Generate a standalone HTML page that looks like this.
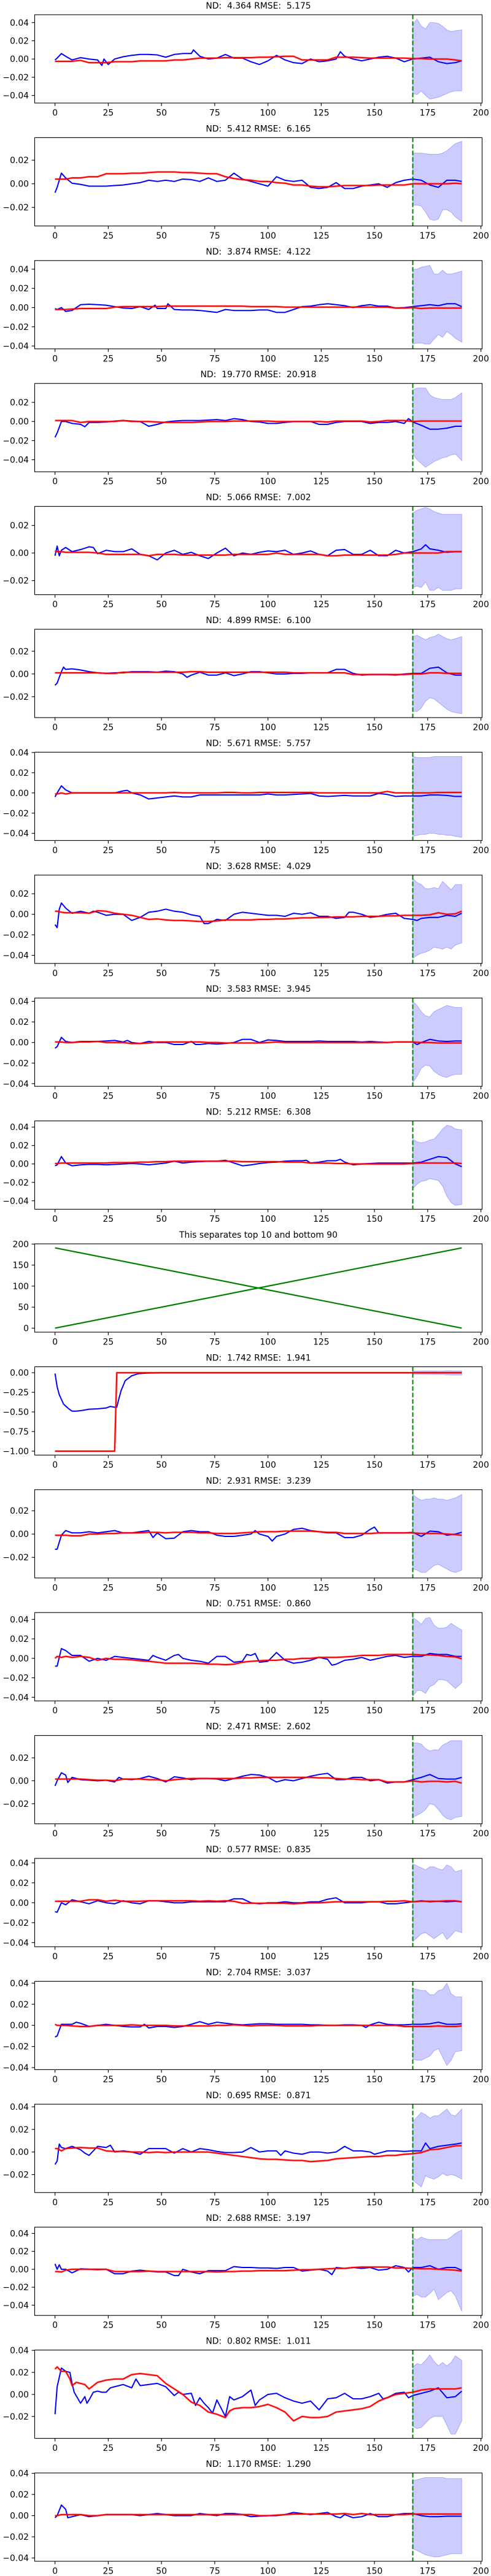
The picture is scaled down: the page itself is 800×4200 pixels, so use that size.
<!DOCTYPE html>
<html><head><meta charset="utf-8"><title>Forecast panels</title>
<style>
html,body{margin:0;padding:0;background:#fff;}
svg{display:block;font-family:"DejaVu Sans","Liberation Sans",sans-serif;}
</style></head>
<body>
<svg id="fig" xmlns="http://www.w3.org/2000/svg" width="800" height="4200" viewBox="0 0 800 4200">
<rect x="0" y="0" width="800" height="4200" fill="#ffffff"/>
</svg>
<script>
// ---- shared axes data ----
const gridX = [0,1,3,5,8,12,16,20,24,28,32,36,40,44,48,52,56,60,64,68,72,76,80,84,88,92,96,100,104,108,112,116,120,124,128,132,136,140,144,148,152,156,160,164,168,172,176,180,184,188,191];
const bandX = [168,170,172,174,176,178,180,182,184,186,188,191];
const xTicks = [0,25,50,75,100,125,150,175,200];
const forecastStart = 168;
const titles = [
"ND:  4.364 RMSE:  5.175","ND:  5.412 RMSE:  6.165","ND:  3.874 RMSE:  4.122","ND:  19.770 RMSE:  20.918",
"ND:  5.066 RMSE:  7.002","ND:  4.899 RMSE:  6.100","ND:  5.671 RMSE:  5.757","ND:  3.628 RMSE:  4.029",
"ND:  3.583 RMSE:  3.945","ND:  5.212 RMSE:  6.308","This separates top 10 and bottom 90","ND:  1.742 RMSE:  1.941",
"ND:  2.931 RMSE:  3.239","ND:  0.751 RMSE:  0.860","ND:  2.471 RMSE:  2.602","ND:  0.577 RMSE:  0.835",
"ND:  2.704 RMSE:  3.037","ND:  0.695 RMSE:  0.871","ND:  2.688 RMSE:  3.197","ND:  0.802 RMSE:  1.011",
"ND:  1.170 RMSE:  1.290"];
// y limits in thousandths (panel 10 in raw units)
const yLims = [[-48.3,48.6],[-35.7,39.1],[-43,49],[-52.6,39.8],[-30.2,33.8],[-38.4,39.3],[-47.1,40.3],[-47.9,38.2],[-42.6,43.2],[-49.2,46.7],
[-9.55,200.55],[-1050,76],[-37.7,38.1],[-43.7,47],[-37.5,39.5],[-44.1,44.5],[-41.9,41.7],[-35.9,42.3],[-51.5,47],[-39.9,40.3],[-43.1,40.3]];
const ticks4 = [-40,-20,0,20,40];
const ticks2 = [-20,0,20];
const yTicks = [ticks4,ticks2,ticks4,[-40,-20,0,20],ticks2,ticks2,ticks4,[-40,-20,0,20],ticks4,ticks4,
[0,50,100,150,200],[-1000,-750,-500,-250,0],ticks2,ticks4,ticks2,ticks4,ticks4,[-20,0,20,40],ticks4,[-20,0,20,40],ticks4];

// ---- actual (blue) series: x,value pairs, values in thousandths ----
const actual0=[0,-1,1,1,3,6,5,3,8,-1,12,1.5,16,0,20,-1,22,-7,23,0,25,-6,28,0,32,2.5,36,4,40,5,44,5,48,4.5,52,2,56,5,60,6,64,6,65,10,68,3,72,0,76,1,80,5,84,1,88,1,92,-3,96,-6,100,-2,104,4,108,-1,112,-4,116,-5,120,0,124,-3,128,-2,132,0,134,8,136,3,140,0,144,-2,148,0,152,2,156,3,160,1,164,-3,168,0,172,1,176,2,180,-3,184,-5,188,-4,191,-2];
const actual1=[0,-7.5,1,-3,3,9,5,5,8,0.5,12,-0.5,16,-2,20,-2,24,-2,28,-1.5,32,-1,36,0,40,1,44,3,48,2,52,3,56,2,60,4,64,3.5,68,2,72,5,76,2,80,3,84,9,88,4,92,2,96,0,100,-2,104,6,108,3,112,2,116,3,120,-3,124,-4,128,-3,132,1,136,-4,140,-4,144,-2,148,-1,152,0,156,-3,160,1,164,3,168,4,172,3,176,-1,180,-3,184,3,188,3,191,2];
const actual2=[0,-1,1,-2,3,0,5,-4,8,-3,12,3,16,3.5,20,3,24,2.5,28,1,32,-0.5,36,-1,40,1,44,-2,47,2.5,48,-1,52,-1,53,4,56,-2,60,-2.5,64,-2.5,68,-3,72,-4,76,-5,80,-2,84,-3,88,-3,92,-3,96,-2.5,100,-2.5,104,-5,108,-5,112,-2,116,1,120,1.5,124,3,128,4,132,3,136,2,140,0,144,2,148,3,152,1.5,156,1.5,160,-0.5,164,0,168,1,172,2,176,3,180,2,184,4,188,4,191,1];
const actual3=[0,-16.5,1,-12,3,0,5,0,8,-2,12,-3,14,-5.5,16,-1,20,-1,24,-0.5,28,0.5,32,1,36,0.5,40,0,44,-5,48,-3,52,-0.5,56,0.5,60,1,64,1,68,1,72,1.5,76,2,80,1,84,3,88,2,92,0,96,-0.5,100,-2,104,-2,108,-1,112,0,116,0,120,0,124,-3,128,-3,132,-1,136,0,140,0,144,0,148,-2,152,-1,156,-1,160,0,164,-2,166,3,168,-0.5,172,-4,176,-8,180,-8,184,-7,188,-5,191,-5];
const actual4=[0,-2,1,5,2,-2,3,2,5,4,8,1,12,2.5,16,4.5,18,4,20,-0.5,24,2,28,1,32,1,36,3,40,-1,44,-2,48,-5,52,0,56,2,60,-1,64,0.5,68,-2,72,-4,76,0,80,3.5,84,-2,88,0,92,-1,96,0.5,100,1.5,104,1,108,2,112,-1,116,0,120,1.5,124,-1,128,-2,132,2,136,2.5,140,-1,144,-1,148,2,152,-2,156,-2,160,2,164,0,168,1,172,3,174,6,176,3,180,2,184,0.5,188,1,191,1];
const actual5=[0,-10,1,-8,3,2,4,6,5,4,8,4.5,12,3.5,16,2,20,1,24,0.5,28,1,32,1,36,2,40,2,44,2,48,1.5,52,2.5,56,2,60,0,62,-3,64,-1,68,1.5,72,-1,76,-1,80,1,84,-1.5,88,0,92,2,96,2,100,1,104,0,108,0,112,0.5,116,0.5,120,1,124,1,128,1,132,4,136,4,140,0.5,144,-1,148,-0.5,152,-0.5,156,-0.5,160,-1,164,0,168,0.5,172,0.5,176,5,180,6,184,1,188,-1,191,-1];
const actual6=[0,-4,1,0,3,7,5,3,8,0,12,0,16,0,20,0,24,0,28,0,32,2,34,2.5,36,0,40,-2,44,-6,48,-5,52,-4,56,-3,60,-4,64,-4,68,-2,72,-2,76,-2,80,-2,84,-2,88,-2,92,-2,96,-2,100,-1,104,-2,108,-2,112,-1.5,116,-1,120,-0.5,124,-3,128,-3.5,132,-3,136,-2.5,140,-3,144,-3,148,-3,152,-0.5,156,-1.5,160,-3.5,164,-3,168,-3,172,-3,176,-2,180,-2,184,-2.5,188,-3.5,191,-3.5];
const actual7=[0,-10,1,-13,2,5,3,11,5,6,8,1,12,3,16,1,18,3,20,2,24,-1,28,0,32,0,36,-6,40,-3,44,2,48,3,52,5,56,3,60,2,64,-0.5,68,-2,70,-9,72,-9,76,-5,80,-6,84,0,88,2,92,1,96,0,100,-1,104,-1,108,-2,112,1,116,0,120,1.5,124,-2,128,-2,132,-4,136,-3,138,2,140,2,144,0,148,-3,152,-2,156,0,160,1,164,-4,168,-5,170,-6,172,-4,176,-3,180,-3,184,-1,188,-2,191,1];
const actual8=[0,-5.5,1,-4,3,5,5,1,8,0,12,1,16,1,20,1,24,1.5,28,2,32,0.5,34,2,36,0,40,-1,44,1,48,0,52,0,56,-2,60,-2,64,1,66,-2,68,-2,72,-1,76,-1.5,80,-1,84,0,88,3,92,3,96,0,100,2.5,104,2,108,1,112,1,116,1,120,1,124,1.5,128,1,132,1,136,1,140,1,144,0.5,148,1,152,0.5,156,0,160,0.5,164,0.5,168,0.5,170,-2,172,0,176,3,180,1.5,184,1,188,1.5,191,1.5];
const actual9=[0,-2,1,-1,3,8,5,1,8,-2,12,-1,16,-0.5,20,-0.5,24,-1,28,-0.5,32,0,36,0.5,40,0,44,-1,48,0,52,1,56,3,60,1,64,2,68,2.5,72,3,76,3,80,4,84,1,88,-2,92,-1,96,0.5,100,1.5,104,2,108,3,112,3.5,116,3.5,118,4,120,1,124,2,128,3.5,132,3.5,134,5,136,2,140,-1,144,0,148,0.5,152,1,156,1,160,1,164,1,168,1,172,2,176,5,180,8,184,7,188,0,191,-3];
const actual11=[0,-10,1,-180,2,-280,4,-400,6,-450,8,-490,10,-490,13,-480,16,-465,20,-460,24,-450,26,-430,28,-440,29,-440,30,-330,31,-230,33,-100,36,-40,39,-13,43,-5,50,0,100,0,191,0];
const actual12=[0,-13,1,-13,3,-1,5,3,8,1,12,1,16,2,20,1,24,2,28,3,32,1,36,1,40,2,44,3,46,-3,48,1,52,-4,56,-3.5,60,2,64,3,68,2,72,2,76,-1,80,-2,84,-2,88,-1,92,0,94,3,96,0,100,-2,102,-6,104,-2,108,0,112,4,116,5,120,3,124,2,128,1,132,1,136,-3,140,-3,144,-1,148,4,150,6,152,1,156,1,160,1,164,1,168,1.5,172,-2,176,2.5,180,2,184,-1,188,0,191,1.5];
const actual13=[0,-8,1,-8,3,10,5,8,8,3,12,3,16,-3,20,0,24,-2,28,2,32,1,36,0,40,-1,44,-2,46,3,48,1,52,-2,56,3,58,4,60,0,64,-2,68,-3,72,-5,76,2,80,2,84,-4,88,-3,90,4,92,3,94,5,96,-4,100,-3,104,6,108,-2,112,-5,116,-4,120,-2,124,1,128,-1,130,-7,132,-6,136,-2,140,-1,144,1,148,-2,152,0,156,2,160,3,164,1,168,2,172,2,176,5,180,4,184,4,188,2,191,2];
const actual14=[0,-4.5,1,0,3,7,5,5,6,-1.5,8,3,12,1,16,0.5,20,0,24,0.5,28,-1,30,3,32,1.5,36,1,40,2,44,4,48,2,52,-1,56,3.5,60,2.5,64,1,68,2,72,2,76,1.5,80,0,84,2,88,4,92,5.5,96,5,100,3,104,-1,108,1,112,0,116,2,120,4,124,5.5,128,6.5,132,1,136,1,140,3,144,3,148,0,152,1,156,-2,160,-1,164,-1,168,1,172,3,176,5.5,180,2,184,1.5,188,1.5,191,3];
const actual15=[0,-9,1,-9.5,3,0,5,-2,8,3,12,1,16,-1,20,2,24,0,28,-1,32,2,36,0,40,-1,44,2,48,2,52,1,56,0,60,0,64,1,68,1,72,1,76,1,80,1,84,4,88,4,92,0,96,-1,100,0,104,0,108,1,112,0,116,0,120,1,124,1,128,3.5,132,5,136,0,140,0,144,0,148,1,152,1,156,-1,160,-1,164,0,168,1,172,2,176,1,180,1.5,184,1,188,1.5,191,1];
const actual16=[0,-11,1,-10,3,1,5,1,8,1,10,3,12,2,16,-1,20,0,24,1,28,0,32,-1,36,-1.5,40,-1.5,42,1,44,-2.5,48,-1,52,-1,56,-2,60,-1,64,1,68,3.5,72,1,76,3,80,2,84,1,88,0.5,92,1,96,1.5,100,1.5,104,1,108,1,112,1,116,1,120,0.5,124,0.5,128,0,132,0,136,0.5,140,0.5,144,0,146,-2,148,0.5,152,3,156,1,160,0.5,164,0.5,168,1,172,1,176,1.5,180,3,184,1,188,1,191,1.5];
const actual17=[0,-11,1,-8,2,7,3,4,5,3,8,5,12,2,14,-1,16,-3,20,5,24,4,26,6,28,0,32,1,36,0,40,-2,44,3,48,3,52,3,56,-1,60,3,64,0,68,3,72,2,76,0.5,80,-0.5,84,-0.5,88,0,92,4,96,0,100,1,104,1,106,-3,108,1,112,-1,116,-2,120,0,124,0,128,-1,132,0,136,5,140,1,144,1,148,0,150,-2,152,-1,156,1,160,1,164,0.5,168,1,172,1,174,8,176,3,180,5,184,6,188,7,191,8];
const actual18=[0,6,1,0,2,5,3,0,5,0,8,-4,12,0.5,16,0,20,-0.5,24,0,28,-5,32,-5,36,-2,40,-1,44,-2,48,-3,52,-3,56,-7,58,-7,60,0,64,-3,68,-5,72,-1.5,76,-1.5,80,-1.5,84,3,88,2,92,2,96,1.5,100,1.5,104,1,108,2,112,2,116,-2,120,-1,124,0,128,-2,130,-6,132,2,136,1,140,2,144,1,148,2,152,-1,156,0,160,4,164,2,166,-3,168,2,172,2,176,4,180,0,184,2,188,2,191,-1];
const actual19X=[0,1,3,5,7,8,9,12,14,15,16,18,20,22,24,26,28,32,36,38,40,44,48,52,56,58,60,64,66,68,70,72,74,76,80,82,84,88,92,94,96,100,104,108,112,116,120,124,128,132,136,140,144,148,152,154,156,160,164,166,168,172,176,180,184,188,191];
const actual19Y=[-18,7,24,21,20,10,2,-8,-2,-8,-5,2,3,2,2,6,7,9,6,14,8,9,10,7,-1,2,0,1,-10,-3,-8,-12,-17,-5,-20,-2,-5,-2,4,-10,-5,0,1,-3,-6,-8,-6,-14,-4,-3,1,-4,-4,-2,1,-4,-3,1,2,-3,-1,1,3,6,-3,-2,3];
const actual20=[0,-2,1,0,3,10,5,6,6,-2,8,-1,12,1,16,-1,20,0,24,1,28,1,32,1,36,1,40,0,44,1,48,2,52,1,56,0,60,0,64,0,68,2,72,1,76,0,80,2,84,2,88,1,92,-1,96,-0.5,100,0,104,0,108,1,112,3,116,2,120,1,124,2,128,3,132,-1,134,-2,136,1,140,-2,144,-1,148,2,152,-1,156,-1,160,1,164,2,168,2,172,0,176,-1,180,-1,184,-0.5,188,-0.5,191,-0.5];

// ---- forecast (red) series on gridX, thousandths ----
const forecast0=[-2.5,-2.5,-2.5,-2.5,-2.5,-1.5,-4,-4,-4,-3,-3,-3,-2,-2,-2,-2,-1,-1,0,1,1,1,1.5,1.5,1.5,1.5,2,2,2.5,3,3,-1,-1,-1,-1,2,2,2,1.5,1,1,1,1,1,0.5,0.5,0,0,0,-1,-2];
const forecast1=[4,4,4,4,5,5,6,6,8.5,8.5,8.5,9,9,9.5,10,10,10,9.5,9.5,9,8.5,8.5,6,4.5,3.5,3,2,2,1,0.5,-1,-1,-2,-2.5,-2.5,-2,-1.5,-1.5,-1.5,-1.5,-1,-1,-1,-1,0,0,0,0,0,0.5,0];
const forecast2=[-2,-2,-2,-2,-1.5,-1,-1,-1,-1,0.5,1,1,1,1,1,1.5,1.5,1.5,1.5,1.5,1.5,1.5,1.5,1.5,1.5,1,1,1,1,0.5,0.5,0.5,0.5,0.5,0.5,0.5,0.5,0.5,0.5,0.5,0.5,0.5,-0.5,-0.5,0,-1,-0.5,-0.5,-0.5,-0.5,-0.5];
const forecast3=[1,1,1,1,1,-1,0,0,0,0,1,0,0,0,-0.5,-1,-1,-1,-1,-0.5,0,0,0,0.5,0.5,0.5,0.5,0.5,0,0,0,0,0,0,-0.5,0.5,0.5,0.5,0.5,-0.5,0,1,1,1,0,0.5,0.5,0.5,0.5,0.5,0.5];
const forecast4=[1.5,1,1,0.5,0.5,0.5,0.5,0,-1,-1,-1,-1,-1,-2,-1,-1,-1,-1.5,-1.5,-1.5,-1.5,-1.5,-1.5,-1,-1,-1,-1,-1,0,-1,-1,-1,-1,-1,-2,-2,-1.5,-1.5,-1.5,-1.5,-1.5,-1.5,-1,0,0,0,0,0,1,1,1];
const forecast5=[1,1,1,1,1,1,1,1,0.5,0.5,1.5,1.5,1.5,1.5,1.5,1.5,1.5,1.5,2,2,1.5,1.5,1.5,1.5,1.5,1.5,1.5,1.5,1.5,1.5,1,1,1,1,1,1,1,-0.5,-0.5,-0.5,-0.5,-0.5,-0.5,-0.5,0,0,1,1,0.5,0.5,0.5];
const forecast6=[-1,-1,0,-1,0,0,0,0,0,0,0,0,0,0,0,0,0.5,0,0,0,0,0,0.5,0.5,0,0,0.5,0.5,0.5,0.5,0.5,0.5,0.5,0,0,0,0,0,0,0,0,1.5,0,0,0,0,0,0.5,0.5,0.5,0.5];
const forecast7=[3,3,2,1.5,1.5,1.5,1,3.5,3,1,0,-1,-3,-5,-4.5,-5.5,-6,-6,-6.5,-7,-7,-6.5,-5.5,-5.5,-5.5,-5.5,-5,-5,-4.5,-4.5,-4,-3.5,-3.5,-3,-3,-2.5,-2.5,-2.5,-2,-2,-2,-1.5,-1.5,-1,-1,-1,-0.5,1.5,0,0.5,3];
const forecast8=[0.5,0.5,0.5,0,0,0.5,0.5,1,0,0,0,-1,-1,-0.5,0.5,0.5,0.5,0.5,0.5,0.5,0,0,-0.5,-0.5,-0.5,-0.5,-0.5,0,0.5,0,0,0,0,0,0,0,0,0,0,0,0,0,0.5,0.5,0.5,0,0,-0.5,-0.5,-0.5,-0.5];
const forecast9=[0.5,0.5,1,1,1,1,1,1,1,1.5,1.5,1.5,2,2,2.5,2.5,3,3,3,3,3,3,3,3,2.5,2.5,2.5,2.5,2.5,2,2,2,1,1,1,0.5,0.5,0,0,0,0,0,0,0,0.5,1,1,1,1,1,0.5];
const forecast11X=[0,28,29,100,191];
const forecast11Y=[-1000,-1000,0,0,0];
const forecast12=[-1,-1,-1,-1,-1.5,-1.5,0,0,0.5,0.5,1,1,1,1.5,1.5,1,1.5,1.5,1.5,1,1,0.5,0.5,0.5,1,1.5,2,2,2,2.5,2.5,2.5,2.5,2,1.5,1.5,0.5,0.5,0.5,0.5,1,1,1,1,1,0.5,0.5,0.5,0,-0.5,-1];
const forecast13=[0,2,1,2,1,2,1,-2,0,-1,-1,-1.5,-2.5,-3,-4,-5,-5,-5,-5,-5.5,-6,-6,-6.5,-6,-4,-3,-2.5,-2,-2,-1,-1,0,0,1,1,1,1.5,2,3,3,3,4,4,4,4,3.5,3.5,3,2,1.5,-0.5];
const forecast14=[1.5,1.5,1.5,1.5,1.5,1.5,1,0.5,0.5,0,1.5,1.5,1.5,1,1,0,1,1.5,2,2,2,2,2,2,2.5,2.5,3,3,3,3,3,3,3,2.5,2.5,2,1.5,1.5,1,1,1,-1,-1,-1,0,-1,-0.5,-0.5,-1,-0.5,-2];
const forecast15=[1.5,1.5,1.5,1.5,1.5,1.5,3,3,1.5,2.5,1.5,1.5,1.5,2,2,2,2,2,2,1.5,2,1.5,2,1.5,-0.5,-0.5,-0.5,-0.5,-0.5,-0.5,-1,-0.5,0,0,0.5,1,1,1,1,1,1,1.5,1.5,2,1,1.5,1.5,1.5,2,2,1];
const forecast16=[1,0,0,0,-0.5,-1,-1,0,0,0,0,0.5,0,0,0,0,-0.5,-0.5,-0.5,-0.5,-0.5,0,0,0.5,0,-0.5,0,0,0,-0.5,-0.5,-0.5,-0.5,0,0,0,0,0,0,0,0,0,0,-1,-1,-1,-1,-0.5,-1,-1,-0.5];
const forecast17=[3,3,1,3,3.5,4,3.5,3.5,1,0.5,0.5,0,0,-0.5,0,-0.5,0,0,0,0,0,-1,-2,-3,-4,-5,-6,-6.5,-6.5,-7,-7.5,-7.5,-8.5,-8,-7.5,-6,-5.5,-5,-4.5,-4,-4,-3,-3,-2,-1.5,-0.5,2,2.5,4,5.5,5.5];
const forecast18=[-2.5,-2.5,-3,-1,0,0,0,0,0,-2.5,-2.5,-2.5,-2.5,-2,-2.5,-2.5,-2.5,-2.5,-2.5,-2.5,-2.5,-3,-2.5,-2.5,-2,-2,-1.5,-1.5,-1.5,-1.5,-1,-0.5,-0.5,0,0.5,1,1,2,2.5,2.5,2.5,2.5,1.5,1.5,1,0.5,0.5,0,-0.5,-1,-2];
const forecast19X=[0,1,3,5,7,8,10,14,16,20,24,28,32,36,40,44,48,52,56,60,64,68,72,76,80,82,84,88,92,96,100,104,108,112,116,120,124,128,132,136,140,144,148,152,156,160,164,168,172,176,180,184,188,191];
const forecast19Y=[23,25,21,21,14,8,11,9,5,11,13,14,14,18,19,18,17,10,5,0,-7,-10,-16,-18,-21,-15,-13,-12,-12,-11,-9,-12,-16,-24,-20,-21,-21,-20,-16,-15,-14,-13,-11,-6,-3,0,1,2,4,5,5,5,5,6];
const forecast20=[0,0,1,1,1,1,0,0,1,1,1,1,1,1,1,1,1,1,1,1,1,1,1,1,1,1,0,0,0.5,1,1.5,1.5,1.5,1.5,1.5,1.5,2,1,2,1,1,1,1,1,1.5,1.5,1.5,1.5,1.5,1.5,1.5];

// ---- uncertainty band (on bandX), thousandths ----
const upper0=[38,44,36,33,40,40,39,36,32,30,31,32], lower0=[-38,-39,-35,-40,-44,-43,-42,-40,-38,-36,-35,-35];
const upper1=[26,26,26,25.5,25,25,25,26,28,31,34,36], lower1=[-18,-18,-19,-24,-30,-31,-30,-22,-22,-24,-28,-32];
const upper2=[40,40,42,43,44,35,35,39,35,35,36,38], lower2=[-38,-37,-37,-38,-38,-33,-28,-31,-25,-28,-32,-36];
const upper3=[33,35,35,35,28,25,24,23,23,23,25,30], lower3=[-34,-40,-44,-48,-45,-42,-40,-38,-37,-35,-34,-41];
const upper4=[29,31,32,33,32,30,29,28,28,28,28,28], lower4=[-25,-24,-25,-21,-27,-27,-25,-27,-27,-27,-26,-26];
const upper5=[33,34,32,30,32,33,35,33,31,30,31,33], lower5=[-33,-33,-30,-24,-21,-22,-25,-28,-31,-33,-34,-35];
const upper6=[36,35,35,35,35,36,36,36,36,36,36,36], lower6=[-43,-42,-41,-41,-40,-40,-41,-41,-42,-42,-43,-44];
const upper7=[35,31,29,25,25,26,25,32,28,24,29,29], lower7=[-43,-40,-38,-37,-35,-32,-33,-34,-32,-34,-30,-28];
const upper8=[40,36,30,26,25,30,32,34,36,35,34,34], lower8=[-39,-33,-25,-22,-23,-28,-31,-33,-34,-32,-31,-31];
const upper9=[27,24,23,24,26,27,32,38,42,41,38,37], lower9=[-27,-22,-19,-18,-16,-17,-18,-24,-35,-42,-45,-44];
const upper11=[20,20,22,22,22,22,20,20,25,25,22,22], lower11=[-20,-20,-20,-20,-22,-22,-22,-22,-25,-30,-30,-30];
const upper12=[34,31,29,30,30,31,30,30,29,30,31,34], lower12=[-30,-31,-33,-33,-30,-27,-26,-28,-30,-32,-33,-31];
const upper13=[42,39,35,41,42,34,31,31,32,36,33,29], lower13=[-39,-33,-33,-36,-29,-27,-22,-22,-23,-27,-31,-25];
const upper14=[33,33,32,28,26,27,27,31,33,35,35,35], lower14=[-32,-30,-28,-25,-20,-21,-25,-30,-33,-34,-32,-31];
const upper15=[39,37,35,33,36,36,34,33,38,36,31,33], lower15=[-39,-35,-31,-30,-33,-36,-33,-30,-37,-33,-28,-30];
const upper16=[35,34,33,33,29,29,33,34,40,30,27,27], lower16=[-32,-33,-33,-31,-29,-24,-22,-30,-38,-33,-25,-24];
const upper17=[27,31,35,33,30,32,32,35,38,33,32,38], lower17=[-25,-28,-31,-21,-23,-24,-22,-19,-21,-20,-21,-24];
const upper18=[35,33,36,34,33,33,33,33,33,36,40,44], lower18=[-30,-28,-31,-31,-27,-22,-34,-30,-26,-24,-30,-47];
const upper19=[25,28,27,31,36,30,26,29,26,29,35,31], lower19=[-29,-31,-30,-26,-22,-20,-20,-20,-28,-36,-36,-24];
const upper20=[33,34,35,36,36,36,36,36,35,35,35,35], lower20=[-31,-33,-35,-37,-38,-39,-39,-38,-37,-36,-36,-36];

// ---- separator panel lines ----
const sepX=[0,191];
const sepRising=[0,191];
const sepFalling=[191,0];

// ---- layout ----
const AX_LEFT=56.5, AX_W=729, AX_H=144, PITCH=200.4, TOP0=24;
const X_MIN=-9.55, X_MAX=200.55;
const NS="http://www.w3.org/2000/svg";
const svg=document.getElementById('fig');
function sx(v){return AX_LEFT+(v-X_MIN)/(X_MAX-X_MIN)*AX_W;}
function el(tag,attrs,parent){const e=document.createElementNS(NS,tag);for(const k in attrs)e.setAttribute(k,attrs[k]);(parent||svg).appendChild(e);return e;}
function pairsToPts(pairs,sy){const p=[];for(let i=0;i+1<pairs.length;i+=2)p.push(sx(pairs[i]).toFixed(2)+','+sy(pairs[i+1]).toFixed(2));return p.join(' ');}
function zipPts(xs,ys,sy){const p=[];const n=Math.min(xs.length,ys.length);for(let i=0;i<n;i++)p.push(sx(xs[i]).toFixed(2)+','+sy(ys[i]).toFixed(2));return p.join(' ');}
function fmtTick(v,isRaw){if(isRaw)return String(v);const s=(v/1000).toFixed(2);return s.replace('-','\u2212');}

const actuals=[actual0,actual1,actual2,actual3,actual4,actual5,actual6,actual7,actual8,actual9,null,actual11,actual12,actual13,actual14,actual15,actual16,actual17,actual18,null,actual20];
const forecasts=[forecast0,forecast1,forecast2,forecast3,forecast4,forecast5,forecast6,forecast7,forecast8,forecast9,null,null,forecast12,forecast13,forecast14,forecast15,forecast16,forecast17,forecast18,null,forecast20];
const uppers=[upper0,upper1,upper2,upper3,upper4,upper5,upper6,upper7,upper8,upper9,null,upper11,upper12,upper13,upper14,upper15,upper16,upper17,upper18,upper19,upper20];
const lowers=[lower0,lower1,lower2,lower3,lower4,lower5,lower6,lower7,lower8,lower9,null,lower11,lower12,lower13,lower14,lower15,lower16,lower17,lower18,lower19,lower20];

for(let i=0;i<21;i++){
  const top=TOP0+PITCH*i, bottom=top+AX_H;
  const lim=yLims[i];
  const sy=v=>top+(lim[1]-v)/(lim[1]-lim[0])*AX_H;
  const g=el('g',{});
  
  
  const clipId='clip'+i;
  const cp=el('clipPath',{id:clipId},g);
  el('rect',{x:AX_LEFT,y:top,width:AX_W,height:AX_H},cp);
  const plot=el('g',{'clip-path':'url(#'+clipId+')'},g);
  
  

  if(i===10){
    const l1=el('polyline',{points:zipPts(sepX,sepFalling,sy),fill:'none',stroke:'#008000','stroke-width':2.2},plot);
    
    
    const l2=el('polyline',{points:zipPts(sepX,sepRising,sy),fill:'none',stroke:'#008000','stroke-width':2.2},plot);
    
    
  } else {
    const up=uppers[i], lo=lowers[i];
    const pts=[];
    for(let k=0;k<bandX.length;k++)pts.push(sx(bandX[k]).toFixed(2)+','+sy(up[k]).toFixed(2));
    for(let k=bandX.length-1;k>=0;k--)pts.push(sx(bandX[k]).toFixed(2)+','+sy(lo[k]).toFixed(2));
    const band=el('polygon',{points:pts.join(' '),fill:'rgba(0,0,255,0.2)',stroke:'rgba(0,0,255,0.25)','stroke-width':1},plot);
    
    
    const aPts = i===19 ? zipPts(actual19X,actual19Y,sy) : pairsToPts(actuals[i],sy);
    const a=el('polyline',{points:aPts,fill:'none',stroke:'#0000ff','stroke-width':2,'stroke-linejoin':'round'},plot);
    
    
    let fPts;
    if(i===11) fPts=zipPts(forecast11X,forecast11Y,sy);
    else if(i===19) fPts=zipPts(forecast19X,forecast19Y,sy);
    else fPts=zipPts(gridX,forecasts[i],sy);
    const fh=el('polyline',{points:fPts,fill:'none',stroke:'rgba(255,0,0,0.3)','stroke-width':3.5,'stroke-linejoin':'round'},plot);
    
    
    const f=el('polyline',{points:fPts,fill:'none',stroke:'#ff0000','stroke-width':2,'stroke-linejoin':'round'},plot);
    
    
    const gx=sx(forecastStart);
    const v=el('line',{x1:gx,x2:gx,y1:top,y2:bottom,stroke:'#008000','stroke-width':2,'stroke-dasharray':'7.4 3.2'},g);
    
    
  }
  const frame=el('rect',{x:AX_LEFT,y:top,width:AX_W,height:AX_H,fill:'none',stroke:'#000','stroke-width':1.1},g);
  
  
  const t=el('text',{x:AX_LEFT+AX_W/2,y:top-10,'text-anchor':'middle','font-size':'13.9px',fill:'#000','xml:space':'preserve',style:'white-space:pre'},g);
  t.textContent=titles[i];
  
  
  for(const xv of xTicks){
    const px=sx(xv);
    const tk=el('line',{x1:px,x2:px,y1:bottom,y2:bottom+4.9,stroke:'#000','stroke-width':1.1},g);
    
    
    const lb=el('text',{x:px,y:bottom+20.5,'text-anchor':'middle','font-size':'13.9px',fill:'#000'},g);
    lb.textContent=String(xv);
    
    
  }
  for(const yv of yTicks[i]){
    if(yv<lim[0]||yv>lim[1])continue;
    const py=sy(yv);
    const tk=el('line',{x1:AX_LEFT-4.9,x2:AX_LEFT,y1:py,y2:py,stroke:'#000','stroke-width':1.1},g);
    
    
    const lb=el('text',{x:AX_LEFT-9.5,y:py+5,'text-anchor':'end','font-size':'13.9px',fill:'#000'},g);
    lb.textContent=fmtTick(yv,i===10);
    
    
  }
}
</script>
</body></html>
